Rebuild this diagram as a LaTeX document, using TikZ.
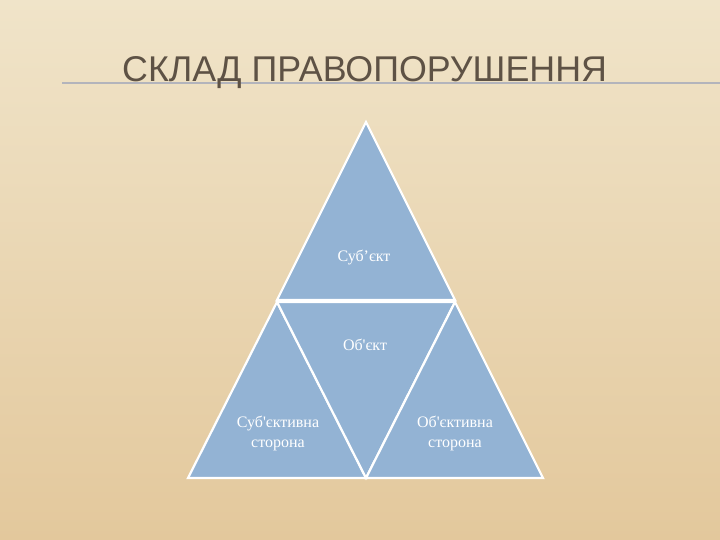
\documentclass[tikz,border=0pt]{standalone}
\usepackage{fontspec}
\setmainfont{Liberation Serif}
\newfontfamily\titlefont{Liberation Sans}
\usetikzlibrary{positioning}

\definecolor{sandtop}{HTML}{F0E4C9}
\definecolor{sandbottom}{HTML}{E3C89C}
\definecolor{partblue}{HTML}{93B3D4}
\definecolor{titlegray}{HTML}{5E5245}
\definecolor{rulegray}{HTML}{B3B4BC}

\tikzset{
  part/.style = {
    fill=partblue, draw=white, line width=2.2pt, line join=miter
  },
  parttext/.style = {
    text=white, font=\fontsize{16}{20}\selectfont, align=center
  }
}

\begin{document}
\begin{tikzpicture}[x=1pt, y=-1pt]

    %% Background
    \shade[top color=sandtop, bottom color=sandbottom] (0,0) rectangle (720,540);
    \useasboundingbox (0,0) rectangle (720,540);

    % Title and rule
    \draw[rulegray, line width=2pt] (62,83) -- (720,83);
    \node[anchor=base west, text=titlegray, inner sep=0pt,
          font=\titlefont\fontsize{35.8}{40}\selectfont] (title) at (122,82)
          {СКЛАД ПРАВОПОРУШЕННЯ};

    % Pyramid
    \draw[part] (366,122) -- (455,300) -- (277,300) -- cycle;
    \draw[part] (277,302) -- (366,478) -- (188,478) -- cycle;
    \draw[part] (277,302) -- (455,302) -- (366,478) -- cycle;
    \draw[part] (455,302) -- (543,478) -- (366,478) -- cycle;

    % Labels
    \node[parttext] (subject) at (364,257) {Суб’єкт};
    \node[parttext] (object) at (365,345) {Об\textquotesingle єкт};
    \node[parttext] (subjside) at (278,433) {Суб\textquotesingle єктивна\\сторона};
    \node[parttext] (objside) at (455,433) {Об\textquotesingle єктивна\\сторона};

\end{tikzpicture}
\end{document}
